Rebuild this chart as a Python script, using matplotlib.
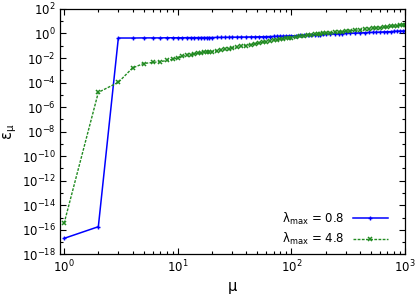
import matplotlib
matplotlib.use("Agg")
import matplotlib.pyplot as plt
import numpy as np

plt.rcParams['font.family'] = ['DejaVu Sans']
plt.rcParams['mathtext.fontset'] = 'dejavusans'

# mu values (shared by both curves)
mu = [1, 2, 3, 4, 5, 6, 7, 8, 9, 10,
      11, 12, 13, 14, 15, 16, 17, 18, 19, 20,
      22, 24, 26, 28, 30, 33, 36, 40, 44, 48,
      52, 56, 60, 65, 70, 75, 80, 85, 90, 95,
      100, 110, 120, 130, 140, 150, 160, 170, 180, 190,
      200, 220, 240, 260, 280, 300, 330, 360, 400, 440,
      480, 520, 560, 600, 650, 700, 750, 800, 850, 900,
      950, 1000]

# log10(eps_mu), lambda_max = 0.8
log_eps_08 = [-16.7, -15.75, -0.37, -0.37, -0.36, -0.36, -0.36, -0.35, -0.35, -0.35,
              -0.35, -0.34, -0.34, -0.34, -0.34, -0.33, -0.33, -0.33, -0.33, -0.33,
              -0.32, -0.32, -0.31, -0.31, -0.30, -0.30, -0.29, -0.29, -0.28, -0.28,
              -0.27, -0.27, -0.26, -0.25, -0.24, -0.23, -0.22, -0.22, -0.21, -0.20,
              -0.20, -0.18, -0.16, -0.14, -0.13, -0.12, -0.11, -0.10, -0.09, -0.08,
              -0.07, -0.05, -0.04, -0.02, -0.01, 0.00, 0.02, 0.03, 0.05, 0.06,
              0.08, 0.09, 0.10, 0.11, 0.13, 0.14, 0.15, 0.17, 0.18, 0.19,
              0.20, 0.21]

# log10(eps_mu), lambda_max = 4.8
log_eps_48 = [-15.47, -4.8, -3.98, -2.81, -2.45, -2.36, -2.30, -2.20, -2.10, -1.98,
              -1.85, -1.78, -1.72, -1.67, -1.62, -1.58, -1.55, -1.52, -1.50, -1.48,
              -1.42, -1.35, -1.30, -1.25, -1.20, -1.12, -1.05, -0.98, -0.90, -0.84,
              -0.78, -0.72, -0.66, -0.60, -0.55, -0.51, -0.47, -0.44, -0.40, -0.37,
              -0.34, -0.29, -0.24, -0.19, -0.15, -0.11, -0.08, -0.05, -0.02, 0.00,
              0.02, 0.06, 0.09, 0.12, 0.15, 0.18, 0.22, 0.26, 0.30, 0.34,
              0.38, 0.41, 0.44, 0.47, 0.50, 0.54, 0.57, 0.60, 0.63, 0.66,
              0.69, 0.72]

y_exponents = list(range(-18, 3, 2))


def plot_errors():
    fig = plt.figure(figsize=(4.15, 2.98), dpi=100)
    ax = fig.add_axes([0.1446, 0.1466, 0.8314, 0.8234])

    eps_08 = 10.0 ** np.array(log_eps_08)
    eps_48 = 10.0 ** np.array(log_eps_48)

    ax.plot(mu, eps_08, color='#0000ff', lw=1.1, marker='+', ms=3.5, mew=1.0,
            label=r'λ$_{\mathregular{max}}$ = 0.8')
    ax.plot(mu, eps_48, color='#228b22', lw=1.0, ls=(0, (2, 1)), marker='x', ms=3.5,
            mew=1.1, label=r'λ$_{\mathregular{max}}$ = 4.8')

    ax.set_xscale('log')
    ax.set_yscale('log')
    ax.set_xlim(0.92, 1000)
    ax.set_ylim(1e-18, 1e2)

    ax.set_yticks([10.0 ** e for e in y_exponents])
    ax.set_yticklabels([r'$\mathregular{10^{%d}}$' % e for e in y_exponents])
    ax.set_yticks([10.0 ** e for e in range(-17, 2, 2)], minor=True)
    ax.set_xticks([1, 10, 100, 1000])
    ax.set_xticklabels([r'$\mathregular{10^{%d}}$' % e for e in range(4)])
    ax.set_xticks([m * 10 ** d for d in range(3) for m in range(2, 10)], minor=True)
    ax.tick_params(which='both', direction='in', top=True, right=True,
                   labelsize=8.5, width=0.8)
    ax.tick_params(which='major', length=4, pad=3)
    ax.tick_params(which='minor', length=2)
    ax.tick_params(axis='y', which='minor', labelleft=False)
    for s in ax.spines.values():
        s.set_linewidth(0.9)

    ax.set_xlabel('μ', fontsize=10.5, labelpad=3)
    ax.set_ylabel(r'ε$_{\mathregular{μ}}$', fontsize=10.5, labelpad=2)

    ax.legend(loc='lower right', bbox_to_anchor=(0.951, 0.03), frameon=False,
              markerfirst=False, fontsize=8.5, handlelength=3.0,
              borderaxespad=0, borderpad=0, labelspacing=0.35,
              handletextpad=0.7)

    fig.savefig('out.png', dpi=100)


if __name__ == "__main__":
    plot_errors()
